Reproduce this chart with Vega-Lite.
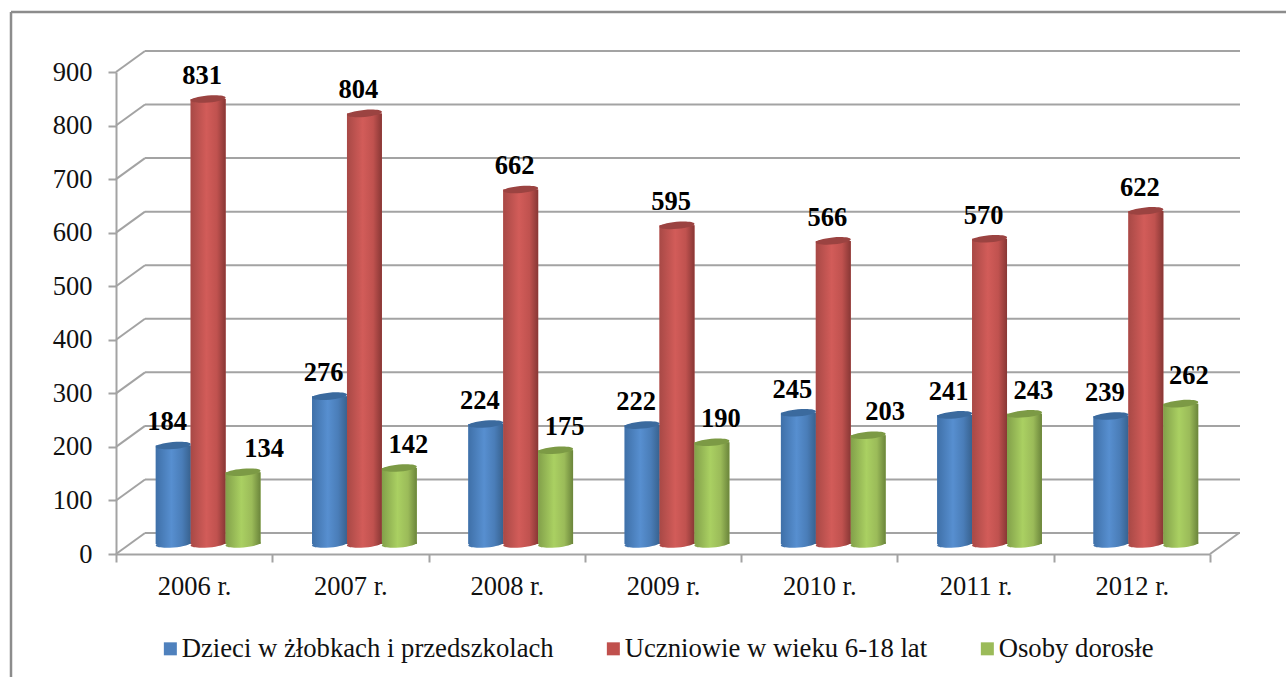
{"$schema":"https://vega.github.io/schema/vega-lite/v6.json","width":1094,"height":482,"autosize":{"type":"none"},"padding":{"left":116,"top":72,"right":76,"bottom":123},"background":"white","view":{"stroke":null},"config":{"font":"Liberation Serif"},
"datasets":{"levels":[{"level":0},{"level":100},{"level":200},{"level":300},{"level":400},{"level":500},{"level":600},{"level":700},{"level":800},{"level":900}],
"counts":[{"year":"2006 r.","series":"Dzieci w żłobkach i przedszkolach","count":184},{"year":"2006 r.","series":"Uczniowie w wieku 6-18 lat","count":831},{"year":"2006 r.","series":"Osoby dorosłe","count":134},{"year":"2007 r.","series":"Dzieci w żłobkach i przedszkolach","count":276},{"year":"2007 r.","series":"Uczniowie w wieku 6-18 lat","count":804},{"year":"2007 r.","series":"Osoby dorosłe","count":142},{"year":"2008 r.","series":"Dzieci w żłobkach i przedszkolach","count":224},{"year":"2008 r.","series":"Uczniowie w wieku 6-18 lat","count":662},{"year":"2008 r.","series":"Osoby dorosłe","count":175},{"year":"2009 r.","series":"Dzieci w żłobkach i przedszkolach","count":222},{"year":"2009 r.","series":"Uczniowie w wieku 6-18 lat","count":595},{"year":"2009 r.","series":"Osoby dorosłe","count":190},{"year":"2010 r.","series":"Dzieci w żłobkach i przedszkolach","count":245},{"year":"2010 r.","series":"Uczniowie w wieku 6-18 lat","count":566},{"year":"2010 r.","series":"Osoby dorosłe","count":203},{"year":"2011 r.","series":"Dzieci w żłobkach i przedszkolach","count":241},{"year":"2011 r.","series":"Uczniowie w wieku 6-18 lat","count":570},{"year":"2011 r.","series":"Osoby dorosłe","count":243},{"year":"2012 r.","series":"Dzieci w żłobkach i przedszkolach","count":239},{"year":"2012 r.","series":"Uczniowie w wieku 6-18 lat","count":622},{"year":"2012 r.","series":"Osoby dorosłe","count":262}]},
"layer":[
{"data":{"values":[{"edge":"top"}]},"mark":{"type":"rule","color":"#8c8c8c","strokeWidth":2.5},"encoding":{"x":{"datum":0,"type":"quantitative","axis":null,"scale":{"domain":[0,1],"range":[-105,1170]}},"x2":{"datum":1},"y":{"datum":1,"type":"quantitative","axis":null,"scale":{"domain":[0,1],"range":[605,-60]}}}},
{"data":{"values":[{"edge":"left"}]},"mark":{"type":"rule","color":"#8c8c8c","strokeWidth":2.5},"encoding":{"x":{"datum":0,"type":"quantitative","axis":null,"scale":{"domain":[0,1],"range":[-105,1170]}},"y":{"datum":0,"type":"quantitative","axis":null,"scale":{"domain":[0,1],"range":[605,-60]}},"y2":{"datum":1}}},
{"data":{"name":"levels"},"mark":{"type":"rule","color":"#a3a3a3","strokeWidth":2,"yOffset":-21},"encoding":{"x":{"datum":0,"type":"quantitative","axis":null,"scale":{"domain":[0,1],"range":[29,1124]}},"x2":{"datum":1},"y":{"field":"level","type":"quantitative","scale":{"domain":[0,900]},"axis":{"values":[0,100,200,300,400,500,600,700,800,900],"title":null,"grid":false,"labelFont":"Liberation Serif","labelFontSize":26.5,"labelColor":"#111111","labelPadding":16,"domainColor":"#a3a3a3","domainWidth":2,"tickColor":"#a3a3a3","tickWidth":2,"tickSize":8}}}},
{"data":{"name":"levels"},"mark":{"type":"point","shape":"M0,0L1,-0.724","filled":false,"stroke":"#a3a3a3","strokeWidth":2,"size":3364,"opacity":1},"encoding":{"x":{"value":0},"y":{"field":"level","type":"quantitative","axis":null,"scale":{"domain":[0,900]}}}},
{"data":{"values":[{"level":0}]},"mark":{"type":"point","shape":"M0,0L1,-0.724","filled":false,"stroke":"#a3a3a3","strokeWidth":2,"size":3364,"opacity":1},"encoding":{"x":{"value":1094},"y":{"field":"level","type":"quantitative","axis":null,"scale":{"domain":[0,900]}}}},
{"data":{"name":"counts"},"mark":{"type":"tick","opacity":0},"encoding":{"x":{"field":"year","type":"nominal","scale":{"paddingInner":0,"paddingOuter":0},"axis":{"title":null,"tickBand":"extent","labelAngle":0,"labelFont":"Liberation Serif","labelFontSize":26.5,"labelColor":"#111111","labelPadding":11,"domainColor":"#a3a3a3","domainWidth":2,"tickColor":"#a3a3a3","tickWidth":2,"tickSize":8}}}},
{"data":{"name":"counts"},
"encoding":{"x":{"field":"year","type":"nominal","axis":null,"scale":{"range":[14,1108],"paddingInner":0.33,"paddingOuter":0.165}},"xOffset":{"field":"series","type":"nominal","scale":{"domain":["Dzieci w żłobkach i przedszkolach","Uczniowie w wieku 6-18 lat","Osoby dorosłe"],"padding":0}},"y":{"field":"count","type":"quantitative","axis":null,"scale":{"domain":[0,900],"range":[472,-10]}}},
"layer":[
{"mark":{"type":"bar"},"encoding":{"color":{"field":"series","type":"nominal","scale":{"domain":["Dzieci w żłobkach i przedszkolach","Uczniowie w wieku 6-18 lat","Osoby dorosłe"],"range":["#4f81bd","#c0504d","#9bbb59"]},"legend":{"orient":"none","legendX":41,"legendY":563,"direction":"horizontal","columns":3,"title":null,"symbolType":"square","symbolSize":169,"symbolStrokeWidth":0,"labelFont":"Liberation Serif","labelFontSize":26.7,"labelColor":"#111111","labelLimit":500,"columnPadding":46,"labelOffset":-2,"symbolOpacity":1}}}},
{"transform":[{"filter":"datum.series==='Dzieci w żłobkach i przedszkolach'"}],"mark":{"type":"point","filled":true,"opacity":1,"size":1225,"shape":"M-1,0.09A1,0.2,-5,1,1,1,-0.09A1,0.2,-5,1,1,-1,0.09Z","color":{"gradient":"linear","x1":0,"x2":1,"y1":0,"y2":0,"stops":[{"offset":0,"color":"#3f70a8"},{"offset":0.45,"color":"#578fd0"},{"offset":0.75,"color":"#4a7db8"},{"offset":1,"color":"#38628f"}]}},"encoding":{"y":{"datum":0}}},
{"transform":[{"filter":"datum.series==='Uczniowie w wieku 6-18 lat'"}],"mark":{"type":"point","filled":true,"opacity":1,"size":1225,"shape":"M-1,0.09A1,0.2,-5,1,1,1,-0.09A1,0.2,-5,1,1,-1,0.09Z","color":{"gradient":"linear","x1":0,"x2":1,"y1":0,"y2":0,"stops":[{"offset":0,"color":"#a84946"},{"offset":0.45,"color":"#d25c59"},{"offset":0.75,"color":"#c0524f"},{"offset":1,"color":"#883735"}]}},"encoding":{"y":{"datum":0}}},
{"transform":[{"filter":"datum.series==='Osoby dorosłe'"}],"mark":{"type":"point","filled":true,"opacity":1,"size":1225,"shape":"M-1,0.09A1,0.2,-5,1,1,1,-0.09A1,0.2,-5,1,1,-1,0.09Z","color":{"gradient":"linear","x1":0,"x2":1,"y1":0,"y2":0,"stops":[{"offset":0,"color":"#82a04a"},{"offset":0.45,"color":"#aad062"},{"offset":0.75,"color":"#9bbb59"},{"offset":1,"color":"#6b853b"}]}},"encoding":{"y":{"datum":0}}},
{"transform":[{"filter":"datum.series==='Dzieci w żłobkach i przedszkolach'"}],"mark":{"type":"bar","color":{"gradient":"linear","x1":0,"x2":1,"y1":0,"y2":0,"stops":[{"offset":0,"color":"#3f70a8"},{"offset":0.45,"color":"#578fd0"},{"offset":0.75,"color":"#4a7db8"},{"offset":1,"color":"#38628f"}]}}},
{"transform":[{"filter":"datum.series==='Uczniowie w wieku 6-18 lat'"}],"mark":{"type":"bar","color":{"gradient":"linear","x1":0,"x2":1,"y1":0,"y2":0,"stops":[{"offset":0,"color":"#a84946"},{"offset":0.45,"color":"#d25c59"},{"offset":0.75,"color":"#c0524f"},{"offset":1,"color":"#883735"}]}}},
{"transform":[{"filter":"datum.series==='Osoby dorosłe'"}],"mark":{"type":"bar","color":{"gradient":"linear","x1":0,"x2":1,"y1":0,"y2":0,"stops":[{"offset":0,"color":"#82a04a"},{"offset":0.45,"color":"#aad062"},{"offset":0.75,"color":"#9bbb59"},{"offset":1,"color":"#6b853b"}]}}},
{"transform":[{"filter":"datum.series==='Dzieci w żłobkach i przedszkolach'"}],"mark":{"type":"point","filled":true,"opacity":1,"size":1225,"shape":"M-1,0.09A1,0.2,-5,1,1,1,-0.09A1,0.2,-5,1,1,-1,0.09Z","color":"#3b6a9e"}},
{"transform":[{"filter":"datum.series==='Uczniowie w wieku 6-18 lat'"}],"mark":{"type":"point","filled":true,"opacity":1,"size":1225,"shape":"M-1,0.09A1,0.2,-5,1,1,1,-0.09A1,0.2,-5,1,1,-1,0.09Z","color":"#9b4341"}},
{"transform":[{"filter":"datum.series==='Osoby dorosłe'"}],"mark":{"type":"point","filled":true,"opacity":1,"size":1225,"shape":"M-1,0.09A1,0.2,-5,1,1,1,-0.09A1,0.2,-5,1,1,-1,0.09Z","color":"#7c9a45"}},
{"transform":[{"filter":"datum.series!=='Osoby dorosłe'"}],"mark":{"type":"text","font":"Liberation Serif","fontWeight":"bold","fontSize":26.5,"color":"#000000","dx":-6,"dy":-23},"encoding":{"text":{"field":"count","type":"quantitative"}}},
{"transform":[{"filter":"datum.series==='Osoby dorosłe' && datum.count!==134 && datum.count!==203 && datum.count!==262"}],"mark":{"type":"text","font":"Liberation Serif","fontWeight":"bold","fontSize":26.5,"color":"#000000","dx":9,"dy":-23},"encoding":{"text":{"field":"count","type":"quantitative"}}},
{"transform":[{"filter":"datum.series==='Osoby dorosłe' && datum.count===134"}],"mark":{"type":"text","font":"Liberation Serif","fontWeight":"bold","fontSize":26.5,"color":"#000000","dx":21,"dy":-23},"encoding":{"text":{"field":"count","type":"quantitative"}}},
{"transform":[{"filter":"datum.series==='Osoby dorosłe' && datum.count===203"}],"mark":{"type":"text","font":"Liberation Serif","fontWeight":"bold","fontSize":26.5,"color":"#000000","dx":17,"dy":-23},"encoding":{"text":{"field":"count","type":"quantitative"}}},
{"transform":[{"filter":"datum.series==='Osoby dorosłe' && datum.count===262"}],"mark":{"type":"text","font":"Liberation Serif","fontWeight":"bold","fontSize":26.5,"color":"#000000","dx":8,"dy":-28},"encoding":{"text":{"field":"count","type":"quantitative"}}}
]}
],
"resolve":{"scale":{"x":"independent","y":"independent","xOffset":"independent"}}}
